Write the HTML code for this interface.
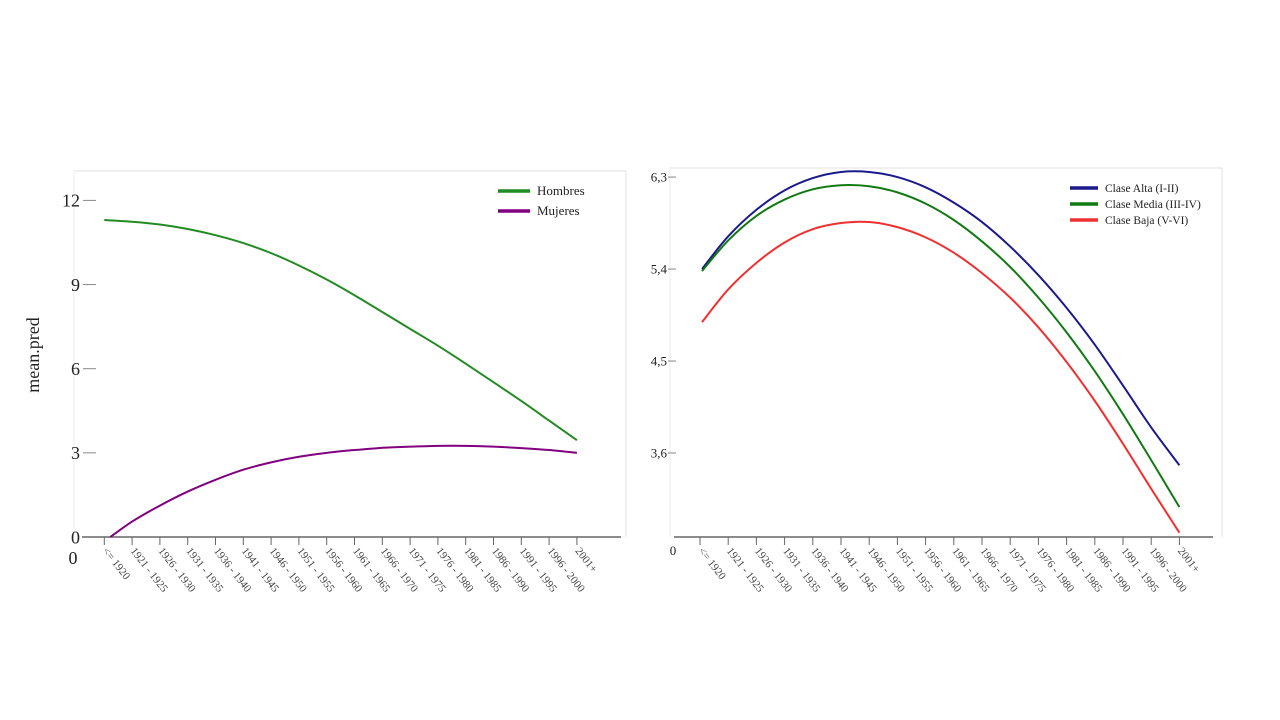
<!DOCTYPE html>
<html><head><meta charset="utf-8"><style>
html,body{margin:0;padding:0;background:#fff;}
svg{display:block;font-family:"Liberation Serif",serif;}
</style></head><body>
<svg id="s" width="1280" height="720" viewBox="0 0 1280 720">
<g id="left"></g>
<g id="right"></g>
</svg>
<script>
const categories=["<= 1920","1921 - 1925","1926 - 1930","1931 - 1935","1936 - 1940","1941 - 1945","1946 - 1950","1951 - 1955","1956 - 1960","1961 - 1965","1966 - 1970","1971 - 1975","1976 - 1980","1981 - 1985","1986 - 1990","1991 - 1995","1996 - 2000","2001+"];
const hombres=[11.3,11.24,11.14,10.98,10.76,10.48,10.12,9.68,9.18,8.62,8.02,7.42,6.82,6.18,5.52,4.85,4.15,3.45];
const mujeres=[0,0.55,1.12,1.62,2.04,2.4,2.66,2.86,3.0,3.1,3.18,3.22,3.25,3.25,3.22,3.17,3.1,3.0];
const leftTicks=[0,3,6,9,12];
const leftTickLabels=["0","3","6","9","12"];
const alta=[5.40,5.72,5.98,6.17,6.29,6.35,6.35,6.30,6.20,6.05,5.86,5.62,5.34,5.02,4.66,4.26,3.85,3.48];
const media=[5.38,5.68,5.92,6.08,6.18,6.22,6.21,6.15,6.04,5.88,5.67,5.42,5.12,4.78,4.40,3.98,3.53,3.07];
const baja=[4.88,5.20,5.46,5.66,5.79,5.85,5.86,5.81,5.71,5.56,5.36,5.12,4.83,4.49,4.11,3.69,3.25,2.82];
const rightTicks=[3.6,4.5,5.4,6.3];
const rightTickLabels=["3,6","4,5","5,4","6,3"];

const NS="http://www.w3.org/2000/svg";
function mk(parent,tag,attrs){const e=document.createElementNS(NS,tag);for(const k in attrs)e.setAttribute(k,attrs[k]);parent.appendChild(e);return e;}
function smooth(pts){let d="M"+pts[0][0]+","+pts[0][1];for(let i=0;i<pts.length-1;i++){const p0=pts[i-1]||pts[i],p1=pts[i],p2=pts[i+1],p3=pts[i+2]||p2;d+=" C"+(p1[0]+(p2[0]-p0[0])/6)+","+(p1[1]+(p2[1]-p0[1])/6)+" "+(p2[0]-(p3[0]-p1[0])/6)+","+(p2[1]-(p3[1]-p1[1])/6)+" "+p2[0]+","+p2[1];}return d;}

function chart(g,cfg){
  const xs=i=>cfg.x0+i*cfg.dx;
  const ys=v=>cfg.y0-(v-cfg.v0)*cfg.py;
  let e=mk(g,"line",{x1:cfg.fl,y1:cfg.ft,x2:cfg.fr,y2:cfg.ft,stroke:"#e2e2e2","stroke-width":1});
  
  
  e=mk(g,"line",{x1:cfg.fr,y1:cfg.ft,x2:cfg.fr,y2:cfg.ax,stroke:"#e2e2e2","stroke-width":1});
  
  
  e=mk(g,"line",{x1:cfg.yl,y1:cfg.ft,x2:cfg.yl,y2:cfg.ax,stroke:"#ececec","stroke-width":1});
  
  
  cfg.ticks.forEach((t,i)=>{
    const y=ys(t);
    let l=mk(g,"line",{x1:cfg.yl+cfg.tk0,y1:y,x2:cfg.yl+cfg.tk1,y2:y,stroke:"#888","stroke-width":1});
    
    
    let tx=mk(g,"text",{x:cfg.ylab,y:y+cfg.yfs*0.35,"text-anchor":"end","font-size":cfg.yfs,fill:"#222"});
    tx.textContent=cfg.tickLabels[i];
    
    
  });
  e=mk(g,"line",{x1:cfg.axl,y1:cfg.ax,x2:cfg.axr,y2:cfg.ax,stroke:"#666","stroke-width":1.5});
  
  
  e=mk(g,"text",{x:cfg.zx,y:cfg.zy,"text-anchor":"middle","font-size":cfg.zfs,fill:"#222"});
  e.textContent="0";
  
  
  categories.forEach((c,i)=>{
    const x=xs(i);
    let l=mk(g,"line",{x1:x,y1:cfg.ax,x2:x,y2:cfg.ax+8,stroke:"#666","stroke-width":1});
    
    
    let t=mk(g,"text",{x:0,y:0,"font-size":11,fill:"#444",transform:"translate("+(x-2)+","+(cfg.ax+14)+") rotate(52)"});
    t.textContent=c;
    
    
  });
  cfg.series.forEach(s=>{
    const pts=s.data.map((v,i)=>[xs(i)+(s.off&&i==0?s.off:0),ys(v)]);
    let p=mk(g,"path",{d:smooth(pts),fill:"none",stroke:s.color,"stroke-width":2});
    
    
  });
  cfg.series.forEach((s,i)=>{
    const y=cfg.lgy+i*cfg.lgdy;
    let l=mk(g,"line",{x1:cfg.lgx,y1:y,x2:cfg.lgx+cfg.lgw,y2:y,stroke:s.color,"stroke-width":3.5});
    
    
    let t=mk(g,"text",{x:cfg.lgx+cfg.lgw+7,y:y+4,"font-size":cfg.lgfs,fill:"#222"});
    t.textContent=s.label;
    
    
  });
}

chart(document.getElementById("left"),{x0:104.3,dx:27.8,y0:537,v0:0,py:28.05,ticks:leftTicks,tickLabels:leftTickLabels,
  fl:74,ft:171,fr:626,yl:74,tk0:9,tk1:22,ylab:80,yfs:18,ax:537,axl:82,axr:621,zx:73,zy:564,zfs:18,
  series:[{name:"hombres",label:"Hombres",data:hombres,color:"#228b22"},{name:"mujeres",label:"Mujeres",data:mujeres,color:"#800080",off:6}],
  lgx:498,lgy:191,lgdy:20,lgw:32,lgfs:13});
chart(document.getElementById("right"),{x0:700,dx:28.2,y0:453,v0:3.6,py:102.2,ticks:rightTicks,tickLabels:rightTickLabels,
  fl:670,ft:168,fr:1222,yl:670,tk0:-2,tk1:6,ylab:667,yfs:13,ax:537,axl:674,axr:1213,zx:673,zy:555,zfs:13,
  series:[{name:"clase-alta",label:"Clase Alta (I-II)",data:alta,color:"#1a1a8c",off:2},{name:"clase-media",label:"Clase Media (III-IV)",data:media,color:"#117a11",off:2},{name:"clase-baja",label:"Clase Baja (V-VI)",data:baja,color:"#f03030",off:2}],
  lgx:1070,lgy:188,lgdy:16,lgw:28,lgfs:11.5});
const yt=mk(document.getElementById("left"),"text",{x:0,y:0,"font-size":18,fill:"#222","text-anchor":"middle",transform:"translate(39,355) rotate(-90)"});
yt.textContent="mean.pred";


</script>
</body></html>
